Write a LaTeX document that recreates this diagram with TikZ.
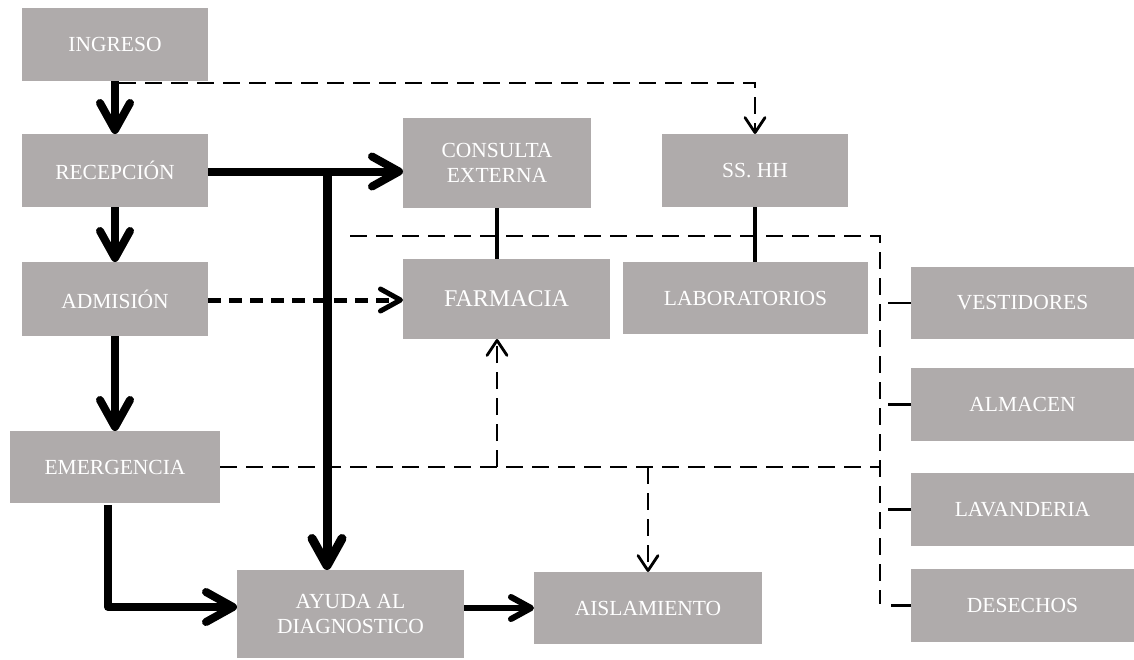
\documentclass[tikz,border=0pt]{standalone}
\usepackage{fontspec}
\setmainfont{Liberation Serif}
\usetikzlibrary{arrows.meta,calc}
\definecolor{boxgray}{RGB}{175,171,171}
\tikzset{
  area/.style={fill=boxgray, text=white, inner sep=0pt, outer sep=0pt,
    align=center, font=\fontsize{21.5pt}{24.5pt}\selectfont},
  flow/.style={line width=8pt, line join=round,
    -{Straight Barb[length=27pt,width=30pt,round]}},
  flowsmall/.style={line width=6pt,
    -{Straight Barb[length=20pt,width=22pt,round]}},
  dashflow/.style={line width=5pt, dash pattern=on 13pt off 8pt,
    -{Straight Barb[length=20pt,width=22pt,round]}},
  service/.style={line width=2.8pt, dash pattern=on 17pt off 9pt},
  servicearrow/.style={service,
    -{Straight Barb[length=15pt,width=20pt,round]}},
  link/.style={line width=4pt},
  branch/.style={line width=2.8pt}
}
\begin{document}
\begin{tikzpicture}[x=1pt,y=-1pt]
\fill[white] (0,0) rectangle (1134,659);
\useasboundingbox (0,0) rectangle (1134,659);

% areas of the building
\node[area, minimum width=186pt, minimum height=73pt] (ing) at (115,44.5) {INGRESO};
\node[area, minimum width=186pt, minimum height=73pt] (rec) at (115,170.5) {RECEPCIÓN};
\node[area, minimum width=186pt, minimum height=74pt] (adm) at (115,299) {ADMISIÓN};
\node[area, minimum width=210pt, minimum height=72pt] (eme) at (115,467) {EMERGENCIA};
\node[area, minimum width=188pt, minimum height=90pt] (con) at (497,163) {CONSULTA\\EXTERNA};
\node[area, minimum width=186pt, minimum height=73pt] (ssh) at (755,170.5) {SS. HH};
\node[area, minimum width=207pt, minimum height=80pt,
      font=\fontsize{24pt}{27pt}\selectfont] (far) at (506.5,299) {FARMACIA};
\node[area, minimum width=245pt, minimum height=72pt] (lab) at (745.5,298) {LABORATORIOS};
\node[area, minimum width=227pt, minimum height=88pt] (ayu) at (350.5,614) {AYUDA AL\\DIAGNOSTICO};
\node[area, minimum width=228pt, minimum height=72pt] (ais) at (648,608) {AISLAMIENTO};
\node[area, minimum width=223pt, minimum height=72pt] (ves) at (1022.5,303) {VESTIDORES};
\node[area, minimum width=223pt, minimum height=73pt] (alm) at (1022.5,404.5) {ALMACEN};
\node[area, minimum width=223pt, minimum height=73pt] (lav) at (1022.5,509.5) {LAVANDERIA};
\node[area, minimum width=223pt, minimum height=73pt] (des) at (1022.5,605.5) {DESECHOS};

% junction points
\coordinate (split) at (327,171);
\coordinate (bustop) at (880,236);
\coordinate (busend) at (880,604);
\coordinate (busstart) at (350,236);
\coordinate (emebus) at (eme.east -| bustop);
\coordinate (farup) at (497,467);
\coordinate (aisdown) at (ais.north |- eme.east);
\coordinate (emeturn) at ($(ayu.west)+(0,-7)$);

% main patient flow
\draw[flow] (ing.south) -- (rec.north);
\draw[flow] (rec.south) -- (adm.north);
\draw[flow] (adm.south) -- (eme.north);
\draw[flow] ($(rec.east)+(0,1)$) -- ($(rec.east -| con.west)+(0,1)$);
\draw[flow, line width=9pt] (split) -- (split |- ayu.north);
\draw[flow] ($(eme.south)+(-7,2)$) |- (emeturn);
\draw[flowsmall] (ayu.east |- ais.west) -- (ais.west);
\draw[dashflow] ($(adm.east)+(0,1)$) -- ($(far.west)+(0,1)$);

% links between neighbouring areas
\draw[link] (con.south) -- (con.south |- far.north);
\draw[link] (ssh.south) -- (ssh.south |- lab.north);

% service circulation
\draw[servicearrow] ($(ing.south)+(4,2)$) -| (ssh.north);
\draw[service] (busstart) -- (bustop) -- (busend);
\draw[service] (eme.east) -- (emebus);
\draw[servicearrow] (farup) -- (farup |- far.south);
\draw[servicearrow] (aisdown) -- (ais.north);

% branches to the support areas
\draw[branch] (ves.west) -- ++(-23,0);
\draw[branch] (alm.west) -- ++(-23,0);
\draw[branch] (lav.west) -- ++(-23,0);
\draw[branch] (des.west) -- ++(-20,0);
\end{tikzpicture}
\end{document}
